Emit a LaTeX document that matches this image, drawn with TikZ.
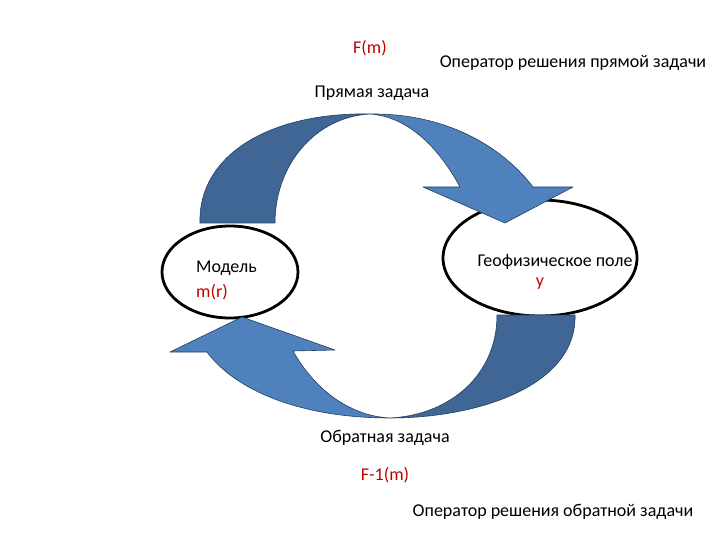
\documentclass[tikz,border=0pt]{standalone}
\usepackage{fontspec}
\setmainfont{Carlito}
\usetikzlibrary{shapes.geometric}
\definecolor{darkb}{HTML}{3F6695}
\definecolor{lightb}{HTML}{4F81BD}
\definecolor{edge}{HTML}{243F60}
\definecolor{redt}{HTML}{C00000}
\begin{document}
\begin{tikzpicture}[x=1pt,y=-1pt,
  oval/.style={ellipse,draw=black,line width=2.8pt,fill=white,inner sep=0pt},
  lbl/.style={font=\fontsize{18}{21}\selectfont,inner sep=0pt},
  red/.style={lbl,text=redt},
  band/.style={draw=edge,line width=0.6pt,line join=round}]
\useasboundingbox (0,0) rectangle (720,540);
\node[oval,minimum width=136pt,minimum height=92pt] (model) at (230,272) {};
\node[oval,minimum width=194pt,minimum height=116pt] (geo) at (540,258) {};
% top arrow
\fill[darkb,band] (200,223) .. controls (198,155) and (270,112) .. (370,114)
  .. controls (315,117) and (275,165) .. (275,223) -- cycle;
\fill[lightb,band] (370,114) .. controls (450,113) and (505,150) .. (533,187)
  -- (573,187) -- (505,223) -- (423,187) -- (460,187)
  .. controls (440,150) and (410,117) .. (370,114) -- cycle;
% bottom arrow
\fill[darkb,band] (575,315) .. controls (577,385) and (480,418) .. (390,418)
  .. controls (450,415) and (497,375) .. (497,315) -- cycle;
\fill[lightb,band] (390,418) .. controls (300,418) and (235,390) .. (207,352)
  -- (170,352) -- (242,317) -- (335,350) -- (293,351)
  .. controls (315,390) and (350,416) .. (390,418) -- cycle;
\node[lbl,anchor=west] (m1) at (196,268) {Модель};
\node[red,anchor=west] (m2) at (196,292) {m(r)};
\node[lbl] (g1) at (555,262) {Геофизическое поле};
\node[red] (g2) at (540,284) {y};
\node[red] (F) at (370,48) {F(m)};
\node[lbl] (op1) at (573,63) {Оператор решения прямой задачи};
\node[lbl] (pz) at (372,93) {Прямая задача};
\node[lbl] (oz) at (385,438) {Обратная задача};
\node[red] (Fi) at (385,475) {F-1(m)};
\node[lbl] (op2) at (553,512) {Оператор решения обратной задачи};
\end{tikzpicture}
\end{document}
